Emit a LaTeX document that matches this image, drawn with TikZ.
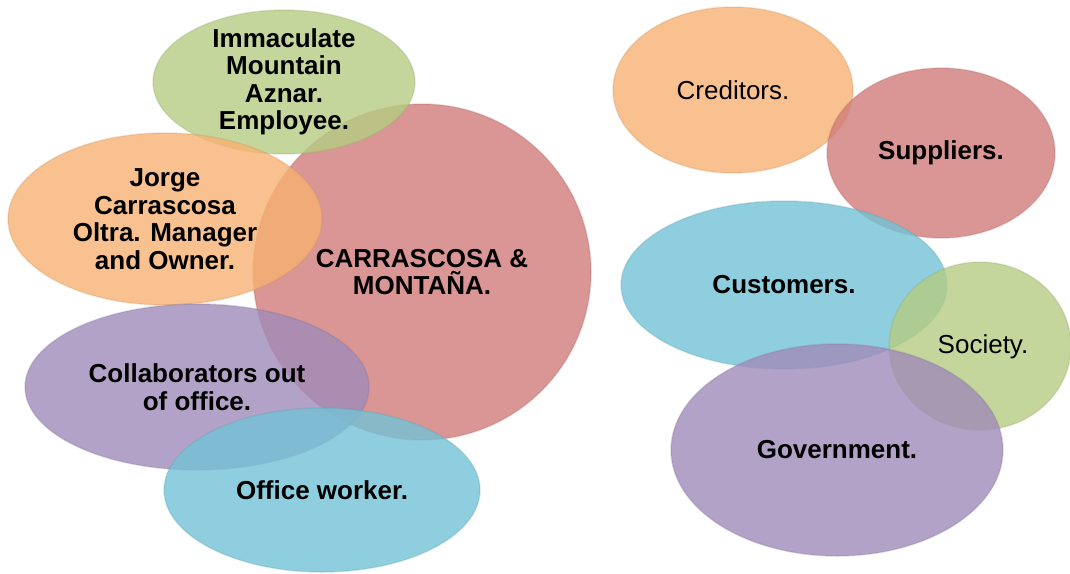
\documentclass[tikz,border=0pt]{standalone}
\usepackage{fontspec}
\setmainfont{Liberation Sans}
\usetikzlibrary{positioning, shapes.geometric}

\definecolor{bubred}{RGB}{209,124,121}
\definecolor{bubgreen}{RGB}{181,204,130}
\definecolor{buborange}{RGB}{247,178,115}
\definecolor{bubpurple}{RGB}{160,139,185}
\definecolor{bubcyan}{RGB}{115,194,214}

\begin{document}
\begin{tikzpicture}[x=1pt, y=-1pt,
    bubble/.style={ellipse, fill=#1, fill opacity=0.8, draw=#1!80!black, draw opacity=0.25, line width=1.5pt, inner sep=0pt},
    txt/.style={align=center, font=\fontsize{26}{27.5}\selectfont\bfseries},
    plaintxt/.style={align=center, font=\fontsize{26}{27.5}\selectfont}]
    \useasboundingbox (0,0) rectangle (1070,573);
    % left group
    \node[bubble=bubred, minimum width=338pt, minimum height=336pt] (firm) at (422,272) {};
    \node[bubble=bubgreen, minimum width=262pt, minimum height=144pt] (inma) at (284,82) {};
    \node[bubble=buborange, minimum width=314pt, minimum height=172pt] (jorge) at (165,219) {};
    \node[bubble=bubpurple, minimum width=344pt, minimum height=166pt] (collab) at (197,387) {};
    \node[bubble=bubcyan, minimum width=316pt, minimum height=164pt] (office) at (322,490) {};
    % right group
    \node[bubble=buborange, minimum width=240pt, minimum height=166pt] (cred) at (733,90) {};
    \node[bubble=bubred, minimum width=228pt, minimum height=170pt] (supp) at (941,153) {};
    \node[bubble=bubcyan, minimum width=326pt, minimum height=168pt] (cust) at (784,285) {};
    \node[bubble=bubgreen, minimum width=182pt, minimum height=168pt] (soc) at (980,346) {};
    \node[bubble=bubpurple, minimum width=332pt, minimum height=212pt] (gov) at (837,450) {};
    % texts
    \node[txt] (firmtxt) at (firm) {CARRASCOSA \&\\MONTAÑA.};
    \node[txt] (inmatxt) at (inma) {Immaculate\\Mountain\\Aznar.\\Employee.};
    \node[txt] (jorgetxt) at (jorge) {Jorge\\Carrascosa\\Oltra. Manager\\and Owner.};
    \node[txt] (collabtxt) at (collab) {Collaborators out\\of office.};
    \node[txt] (officetxt) at (office) {Office worker.};
    \node[plaintxt] (credtxt) at (cred) {Creditors.};
    \node[txt] (supptxt) at (supp) {Suppliers.};
    \node[txt] (custtxt) at (cust) {Customers.};
    \node[plaintxt] (soctxt) at (983,347) {Society.};
    \node[txt] (govtxt) at (gov) {Government.};
\end{tikzpicture}
\end{document}
